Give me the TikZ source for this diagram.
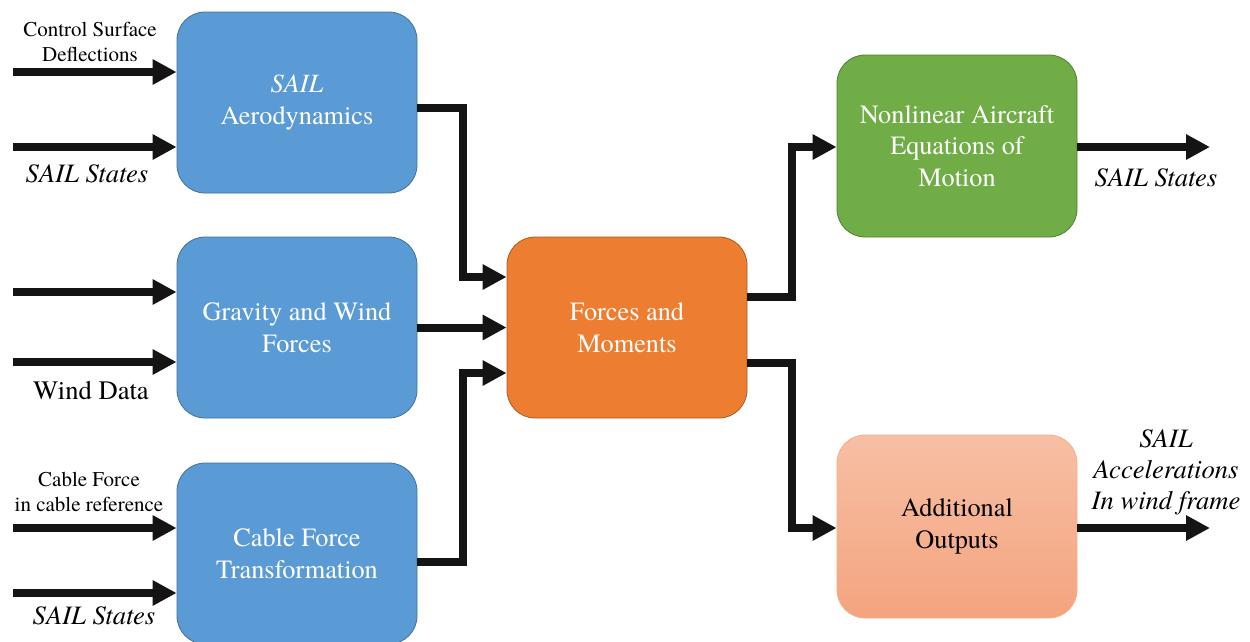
\documentclass[tikz,border=0pt]{standalone}
\usepackage{fontspec}
\setmainfont{texgyretermes}[Extension=.otf, UprightFont=*-regular, ItalicFont=*-italic, BoldFont=*-bold, BoldItalicFont=*-bolditalic]
\usetikzlibrary{arrows.meta}
\definecolor{bluef}{HTML}{5B9BD5}
\definecolor{blued}{HTML}{41719C}
\definecolor{orangef}{HTML}{ED7D31}
\definecolor{oranged}{HTML}{AE5A21}
\definecolor{greenf}{HTML}{70AD47}
\definecolor{greend}{HTML}{507E32}
\definecolor{peachtop}{HTML}{F7BFA5}
\definecolor{peachbot}{HTML}{F4A47E}
\definecolor{peachd}{HTML}{F4B183}
\definecolor{arrowc}{HTML}{141414}
\begin{document}
\begin{tikzpicture}[x=1pt,y=-1pt,
  box/.style={rounded corners=28pt, minimum width=240pt, minimum height=181pt,
    align=center, text=white, line width=0.8pt,
    font=\fontsize{26.3}{31.5}\selectfont},
  bluebox/.style={box, fill=bluef, draw=blued},
  arr/.style={draw=arrowc, line width=8pt, line join=miter,
    -{Triangle[length=24pt,width=24pt]}, arrowc},
  lab/.style={align=center, inner sep=0pt, text=black},
  smalllab/.style={lab, font=\fontsize{21}{25}\selectfont},
  biglab/.style={lab, font=\fontsize{26.6}{31}\selectfont},
]
\useasboundingbox (0,0) rectangle (1250,641);

% boxes
\node[bluebox] (aero) at (297,102.5) {\textit{SAIL}\\Aerodynamics};
\node[bluebox] (grav) at (297,327.5) {Gravity and Wind\\Forces};
\node[bluebox] (cable) at (297,553.5) {Cable Force\\Transformation};
\node[box, fill=orangef, draw=oranged] (forces) at (627,327.5) {Forces and\\Moments};
\node[box, fill=greenf, draw=greend, minimum height=182pt] (eom) at (957,146) {Nonlinear Aircraft\\Equations of\\Motion};
\node[box, top color=peachtop, bottom color=peachbot, draw=peachd, text=black, minimum height=183pt] (addo) at (957,526.5) {Additional\\Outputs};

% free input ends
\coordinate (i1) at (13,72);
\coordinate (i2) at (13,147);
\coordinate (i3) at (13,292);
\coordinate (i4) at (13,362);
\coordinate (i5) at (13,528);
\coordinate (i6) at (13,593);
\coordinate (o1) at (1210,147);
\coordinate (o2) at (1210,528);

% input arrows
\draw[arr] (i1) -- (aero.west |- i1);
\draw[arr] (i2) -- (aero.west |- i2);
\draw[arr] (i3) -- (grav.west |- i3);
\draw[arr] (i4) -- (grav.west |- i4);
\draw[arr] (i5) -- (cable.west |- i5);
\draw[arr] (i6) -- (cable.west |- i6);

% to forces
\draw[arr] (aero.east |- 0,108) -- (463,108) |- (forces.west |- 0,277);
\draw[arr] (grav.east) -- (forces.west);
\draw[arr] (cable.east |- 0,562) -- (463,562) |- (forces.west |- 0,373);

% from forces
\draw[arr] (forces.east |- 0,297) -- (792,297) |- (eom.west |- o1);
\draw[arr] (forces.east |- 0,363) -- (792,363) |- (addo.west |- o2);

% outputs
\draw[arr] (eom.east |- o1) -- (o1);
\draw[arr] (addo.east |- o2) -- (o2);

% labels
\node[smalllab] (lcsd) at (90,42) {Control Surface\\Deflections};
\node[biglab] (ls1) at (87,174) {\textit{SAIL States}};
\node[biglab] (lwd) at (91,391) {Wind Data};
\node[smalllab] (lcf) at (89,492) {Cable Force\\in cable reference};
\node[biglab] (ls2) at (94,616) {\textit{SAIL States}};
\node[biglab] (ls3) at (1156,178) {\textit{SAIL States}};
\node[biglab] (lacc) at (1166,472) {\textit{SAIL}\\\textit{Accelerations}\\\textit{In wind frame}};
\end{tikzpicture}
\end{document}
